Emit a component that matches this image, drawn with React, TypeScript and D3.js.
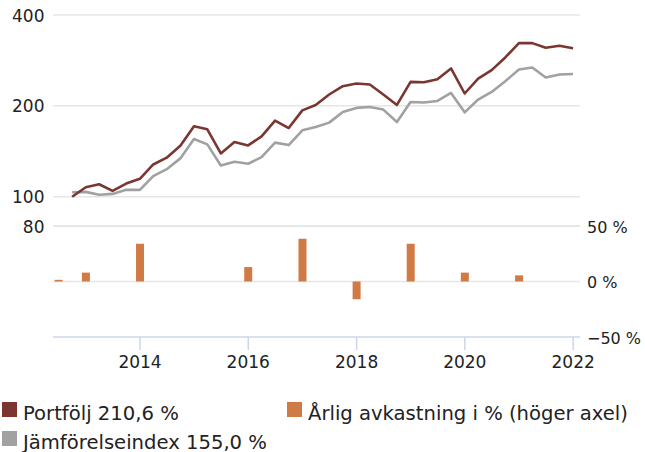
import * as d3 from "d3";

const quarterDates = [
  "2012-09-30", "2012-12-31",
  "2013-03-31", "2013-06-30", "2013-09-30", "2013-12-31",
  "2014-03-31", "2014-06-30", "2014-09-30", "2014-12-31",
  "2015-03-31", "2015-06-30", "2015-09-30", "2015-12-31",
  "2016-03-31", "2016-06-30", "2016-09-30", "2016-12-31",
  "2017-03-31", "2017-06-30", "2017-09-30", "2017-12-31",
  "2018-03-31", "2018-06-30", "2018-09-30", "2018-12-31",
  "2019-03-31", "2019-06-30", "2019-09-30", "2019-12-31",
  "2020-03-31", "2020-06-30", "2020-09-30", "2020-12-31",
  "2021-03-31", "2021-06-30", "2021-09-30", "2021-12-31",
];

const portfolio = [
  100, 107.5, 110, 104.6, 110.6, 114.7, 127.9, 134.7, 147.6, 171.1,
  167.2, 139.2, 151.8, 147.9, 158.5, 178.7, 168.9, 193.3, 201.4, 218.1,
  232.4, 237.2, 235.4, 218.1, 201.4, 240.1, 239.5, 245.1, 266.1, 219.8,
  246.4, 262.6, 289.4, 322.8, 322.8, 311.5, 316.3, 310.6,
];

const benchmark = [
  103.5, 103.8, 101.5, 102.2, 105.4, 105.4, 117.0, 123.4, 134.0, 155.3,
  149.1, 126.9, 130.6, 128.6, 135.3, 151.1, 148.3, 166.0, 170.1, 176.0,
  190.9, 196.9, 198.3, 194.4, 176.8, 206.1, 205.1, 207.7, 220.7, 190.4,
  209.9, 222.4, 241.4, 264.1, 268.1, 248.3, 254.0, 255.0,
];

const barDates = [
  "2012-07-01", "2013-01-01", "2014-01-01", "2016-01-01", "2017-01-01",
  "2018-01-01", "2019-01-01", "2020-01-01", "2021-01-01",
];
const annualReturn = [1.5, 8, 34, 13, 38.5, -16, 34, 8, 5.5];

const leftTicks = [400, 200, 100, 80];
const rightTicks = [50, 0, -50];
const yearTicks = [2014, 2016, 2018, 2020, 2022];

const legendItems = [
  { label: "Portfölj 210,6 %", color: "#7b3631", x: 2, y: 402 },
  { label: "Jämförelseindex 155,0 %", color: "#a1a1a1", x: 2, y: 431 },
  { label: "Årlig avkastning i % (höger axel)", color: "#d07b46", x: 287, y: 402 },
];

const W = 645;
const H = 452;
const FONT = "'DejaVu Sans', Verdana, sans-serif";

export default function App() {
  const parse = d3.timeParse("%Y-%m-%d");
  const x = d3
    .scaleTime()
    .domain([new Date(2012, 4, 24), new Date(2022, 1, 16)])
    .range([53, 580]);
  const yTop = d3.scaleLog().domain([80, 400]).range([226, 15]);
  const yBot = d3.scaleLinear().domain([-50, 50]).range([337, 226]);

  const pts = (vals: number[]) =>
    quarterDates.map((d, i) => [x(parse(d)!), yTop(vals[i])] as [number, number]);
  const line = d3.line();

  const barW = 8;

  return (
    <svg
      width={W}
      height={H}
      style={{ position: "absolute", left: 0, top: 0, background: "#fff" }}
      fontFamily={FONT}
    >
      {/* gridlines */}
      {leftTicks.map((t) => (
        <line key={"g" + t} x1={53} x2={580} y1={yTop(t)} y2={yTop(t)} stroke="#e6e6e6" strokeWidth={1.5} />
      ))}
      {rightTicks.slice(0, 2).map((t) => (
        <line key={"r" + t} x1={53} x2={580} y1={yBot(t)} y2={yBot(t)} stroke="#e6e6e6" strokeWidth={1.5} />
      ))}

      {/* left labels */}
      {leftTicks.map((t) => (
        <text key={"l" + t} x={44.5} y={yTop(t) + 6.5} textAnchor="end" fontSize={17} fill="#222">
          {t}
        </text>
      ))}
      {/* right labels */}
      {rightTicks.map((t) => (
        <text key={"rl" + t} x={587} y={yBot(t) + 6.5} fontSize={16} fill="#222">
          {(t < 0 ? "\u2212" + Math.abs(t) : t) + " %"}
        </text>
      ))}

      {/* bars */}
      {barDates.map((d, i) => {
        const cx = x(parse(d)!);
        const v = annualReturn[i];
        const y0 = yBot(0);
        const y1 = yBot(v);
        return (
          <rect
            key={"b" + i}
            x={cx - barW / 2}
            y={Math.min(y0, y1)}
            width={barW}
            height={Math.abs(y1 - y0)}
            fill="#d07b46"
          />
        );
      })}

      {/* x axis */}
      <line x1={53} x2={580} y1={337} y2={337} stroke="#ccd6eb" strokeWidth={1.5} />
      {yearTicks.map((yr) => {
        const tx = x(new Date(yr, 0, 1));
        return (
          <g key={"x" + yr}>
            <line x1={tx} x2={tx} y1={337} y2={350} stroke="#ccd6eb" strokeWidth={1.5} />
            <text x={tx} y={367.5} textAnchor="middle" fontSize={17} fill="#222">
              {yr}
            </text>
          </g>
        );
      })}

      {/* lines */}
      <path d={line(pts(benchmark)) || ""} fill="none" stroke="#a1a1a1" strokeWidth={2.6} strokeLinejoin="round" />
      <path d={line(pts(portfolio)) || ""} fill="none" stroke="#7b3631" strokeWidth={2.6} strokeLinejoin="round" />

      {/* legend */}
      {legendItems.map((it) => (
        <g key={it.label}>
          <rect x={it.x} y={it.y} width={15} height={15} fill={it.color} />
          <text x={it.x + 21} y={it.y + 17.5} fontSize={19.6} fill="#222">
            {it.label}
          </text>
        </g>
      ))}
    </svg>
  );
}
